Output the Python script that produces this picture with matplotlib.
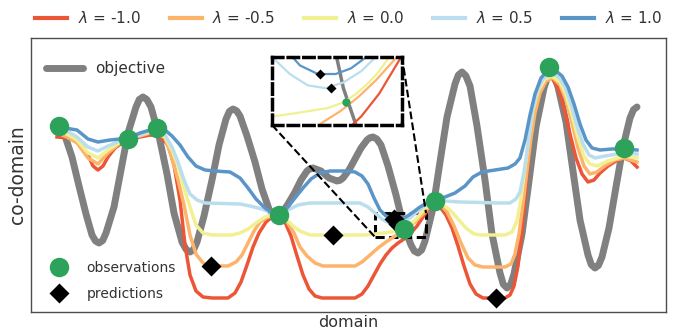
import numpy as np
import matplotlib
matplotlib.use("Agg")
import matplotlib.pyplot as plt
from matplotlib.lines import Line2D
from mpl_toolkits.axes_grid1.inset_locator import mark_inset

# ------------------------------------------------------------------
# data (domain / co-domain in arbitrary units)
# ------------------------------------------------------------------
obj_x = [57, 60.5, 65, 72, 79, 86, 92, 95.5, 99, 102.7, 106, 114, 121, 128, 136, 139.3,
         143, 146.9, 151, 159, 167, 174, 182, 186.1, 190, 193.6, 197, 204, 212, 219,
         226, 229.4, 233, 236.6, 240, 247, 255, 262, 269, 272.4, 276, 279.1, 282, 288,
         295, 301, 307, 309.9, 313, 321, 329, 337, 340, 343, 349, 355, 361, 367, 370,
         373, 376.8, 381, 388, 396, 403, 411, 414.3, 418, 421.7, 425, 433, 440, 447,
         455, 458.3, 462, 465.8, 470, 477, 485, 492, 500, 503.3, 507, 510.7, 514, 522,
         529, 536, 544, 547.3, 551, 554.7, 558, 566, 573, 580, 588, 591.3, 595, 598.5,
         602, 609, 616, 623, 630, 633.5, 637]
obj_y = [192, 190, 184, 163, 134, 106, 85, 79, 77, 79.5, 87, 113, 150, 187, 213, 220.5,
         223, 220.4, 213, 184, 146, 107, 78, 70.6, 68, 70.4, 78, 104, 140, 175,
         201, 208.6, 211, 209.2, 204, 184, 158, 131, 111, 105.8, 104, 104.8, 107, 116,
         128, 140, 149, 151.2, 152, 149, 142, 139, 139.7, 142, 150, 161, 172, 180, 182.3,
         183, 181, 175, 154, 125, 96, 75, 69, 67, 70.1, 79, 112, 158, 203,
         236, 244.9, 248, 244.3, 234, 194, 140, 86, 47, 35.7, 32, 35.6, 46, 86,
         139, 193, 232, 242.4, 246, 242.7, 233, 198, 149, 100, 65, 55.3, 52, 54.7,
         63, 92, 133, 173, 202, 210.3, 213]

lambdas = [-1.0, -0.5, 0.0, 0.5, 1.0]
colors = ['#ec5536', '#fdb46a', '#f1f093', '#badeed', '#5b95c8']

red_x = [57, 70, 80, 88, 93, 98, 103, 108, 115, 122, 128, 140, 150, 157, 162, 168,
         174, 180, 185, 190, 196, 203, 212, 228, 235, 241, 247, 253, 259, 266, 272,
         279, 285, 291, 297, 303, 309, 315, 322, 355, 362, 368, 374, 380, 386, 392,
         398, 404, 410, 417, 425, 430, 435, 440, 446, 452, 458, 464, 470, 476, 483,
         505, 510, 514, 518, 522, 526, 530, 534, 539, 545, 552, 558, 564, 570, 576,
         582, 588, 594, 600, 608, 616, 624, 631, 637]
red_y = [183, 182, 178, 165, 154, 150, 154, 163, 172, 177, 180, 183, 185, 184, 182, 175,
         155, 120, 75, 45, 29, 23, 22, 22, 27, 38, 55, 73, 87, 98, 103,
         104, 98, 84, 64, 45, 31, 24, 22, 22, 26, 34, 45, 56, 65, 72,
         77, 81, 86, 94, 106, 113, 117, 113, 105, 92, 74, 54, 36, 26, 22,
         22, 25, 34, 54, 90, 134, 175, 206, 228, 239, 242, 232, 212, 186, 162,
         146, 138, 140, 147, 154, 159, 162, 159, 153]

orange_x = [57, 67, 77, 88, 98, 108, 120, 128, 140, 150, 157, 165, 172, 178, 184, 190,
            196, 203, 210, 228, 236, 242, 248, 254, 260, 268, 279, 287, 294, 300, 307,
            315, 323, 355, 362, 370, 378, 386, 395, 402, 409, 416, 424, 430, 435, 440,
            447, 454, 461, 468, 475, 483, 505, 511, 515, 519, 523, 527, 531, 535, 540,
            546, 553, 560, 566, 572, 578, 584, 590, 597, 606, 615, 624, 637]
orange_y = [187, 183, 177, 162, 156, 167, 177, 180, 184, 187, 187, 182, 162, 140, 115, 85,
            66, 57, 54, 54, 58, 65, 77, 89, 98, 103, 104, 98, 87, 73, 64,
            57, 54, 54, 58, 65, 72, 78, 84, 88, 93, 99, 107, 114, 117, 116,
            108, 94, 77, 62, 55, 53, 53, 56, 66, 86, 116, 150, 182, 207, 227,
            239, 242, 235, 220, 197, 172, 154, 146, 148, 155, 160, 162, 158]

yellow_x = [57, 67, 77, 88, 98, 108, 120, 128, 140, 150, 157, 165, 172, 178, 184, 190,
            196, 203, 212, 232, 240, 248, 256, 265, 272, 279, 286, 293, 300, 310, 365,
            375, 383, 390, 397, 403, 408, 413, 417, 421, 427, 435, 442, 450, 458, 466,
            474, 482, 505, 512, 517, 521, 525, 529, 533, 538, 545, 552, 560, 566, 572,
            578, 584, 590, 597, 608, 624, 637]
yellow_y = [190, 186, 180, 167, 162, 170, 178, 181, 185, 188, 189, 183, 170, 154, 132, 113,
            95, 87, 85, 85, 87, 91, 97, 103, 105, 105, 101, 94, 89, 85, 85,
            86, 87, 88, 89, 91, 94, 98, 102, 107, 113, 118, 116, 110, 101, 92,
            86, 85, 85, 88, 99, 122, 152, 184, 210, 229, 241, 244, 238, 225, 205,
            182, 164, 156, 154, 159, 164, 162]

lblue_x = [57, 67, 77, 88, 98, 108, 120, 128, 140, 150, 157, 165, 172, 178, 184, 190,
           197, 205, 240, 250, 262, 272, 279, 288, 298, 310, 360, 368, 375, 382, 389,
           396, 403, 410, 418, 426, 435, 445, 460, 500, 510, 516, 520, 524, 528, 532,
           537, 543, 550, 558, 565, 571, 577, 583, 589, 595, 605, 624, 637]
lblue_y = [192, 189, 183, 173, 169, 174, 179, 181, 185, 189, 190, 185, 173, 158, 140, 126,
           120, 117, 116, 114, 111, 107, 105, 110, 115, 117, 117, 113, 107, 101, 97,
           96, 98, 102, 109, 115, 119, 119, 118, 117, 117, 121, 128, 148, 175, 207,
           229, 241, 246, 244, 233, 216, 194, 176, 165, 162, 164, 167, 166]

blue_x = [57, 65, 77, 88, 98, 110, 120, 128, 140, 150, 157, 165, 172, 180, 188, 196,
          205, 215, 230, 240, 248, 256, 265, 272, 279, 287, 295, 303, 311, 320, 330,
          345, 355, 362, 368, 374, 380, 386, 393, 400, 406, 412, 420, 427, 435, 445,
          455, 465, 473, 482, 495, 508, 515, 520, 525, 530, 535, 541, 548, 555, 562,
          568, 574, 580, 586, 592, 600, 612, 624, 637]
blue_y = [193, 192, 190, 181, 178, 180, 181, 182, 187, 190, 193, 190, 184, 175, 163, 154,
          150, 149, 148, 142, 132, 121, 112, 107, 105, 112, 122, 132, 141, 147, 149,
          149, 148, 144, 136, 122, 110, 104, 101, 101, 103, 107, 113, 117, 120, 123,
          127, 134, 143, 148, 150, 152, 156, 162, 180, 205, 226, 242, 250, 250, 244,
          233, 216, 196, 180, 172, 170, 171, 171, 170]

curves_x = [red_x, orange_x, yellow_x, lblue_x, blue_x]
curves_y = [red_y, orange_y, yellow_y, lblue_y, blue_y]

obs_x = [59, 128, 157, 279, 404, 435, 549, 624]
obs_y = [194, 181, 192, 105, 91, 119, 253, 172]

# one prediction per lambda (minimum of each curve)
pred_x = [496, 211, 333, 398, 394]
pred_y = [22, 54, 85, 96, 101]

# zoom window
zoom_xlim = (375, 426)
zoom_ylim = (83, 107)

# ------------------------------------------------------------------
# plot
# ------------------------------------------------------------------
plt.rcParams['font.family'] = 'DejaVu Sans'
plt.rcParams['text.color'] = '#333333'
plt.rcParams['axes.labelcolor'] = '#333333'

fig = plt.figure(figsize=(6.85, 3.31), dpi=100)
ax = fig.add_axes([31 / 685, 19 / 331, 635 / 685, 274 / 331])

obj_line, = ax.plot(obj_x, obj_y, color='#808080', lw=5, solid_capstyle='round',
                    zorder=1, label='objective')
lam_lines = []
for lam, c, cx, cy in zip(lambdas, colors, curves_x, curves_y):
    l, = ax.plot(cx, cy, color=c, lw=2.5, zorder=2,
                 label=r'$\lambda$ = %.1f' % lam)
    lam_lines.append(l)

ax.plot(pred_x, pred_y, 'D', color='k', ms=10, mec='none', zorder=4)
ax.plot(obs_x, obs_y, 'o', color='#2ca25a', ms=14, mec='none', zorder=5)

ax.set_xlim(31, 666)
ax.set_ylim(8, 282)
ax.set_xticks([])
ax.set_yticks([])
for s in ax.spines.values():
    s.set_color('#4d4d4d')
    s.set_linewidth(1.0)
ax.set_xlabel('domain', fontsize=11.5, labelpad=2.5)
ax.set_ylabel('co-domain', fontsize=13.5, labelpad=3)

# legends
leg_top = ax.legend(handles=lam_lines, loc='lower center', bbox_to_anchor=(0.5, 1.01),
                    ncol=5, frameon=False, fontsize=11, handlelength=2.1,
                    columnspacing=1.9, handletextpad=0.7, borderaxespad=0.2)
for h in leg_top.get_lines():
    h.set_linewidth(3)
ax.add_artist(leg_top)

leg_obj = ax.legend(handles=[obj_line], loc='upper left', bbox_to_anchor=(0.0, 0.971),
                    frameon=False, fontsize=11, handlelength=2.4, borderaxespad=0.6)
ax.add_artist(leg_obj)

obs_handle = Line2D([], [], ls='none', marker='o', color='#2ca25a', ms=14, mec='none')
pred_handle = Line2D([], [], ls='none', marker='D', color='k', ms=10, mec='none')
ax.legend([obs_handle, pred_handle], ['observations', 'predictions'], loc='lower left',
          bbox_to_anchor=(0.005, 0.0), frameon=False, fontsize=10, handletextpad=0.95,
          labelspacing=0.85, borderaxespad=0.4)

# zoomed inset
axins = fig.add_axes([272 / 685, (331 - 125) / 331, 130 / 685, 68 / 331])
axins.plot(obj_x, obj_y, color='#808080', lw=2.5, zorder=1)
for c, cx, cy in zip(colors, curves_x, curves_y):
    axins.plot(cx, cy, color=c, lw=1.6, zorder=2)
axins.plot(pred_x, pred_y, 'D', color='k', ms=5, mec='none', zorder=4)
axins.plot(obs_x, obs_y, 'o', color='#2ca25a', ms=6, mec='none', zorder=5)
axins.set_xlim(*zoom_xlim)
axins.set_ylim(*zoom_ylim)
axins.set_xticks([])
axins.set_yticks([])
for s in axins.spines.values():
    s.set_color('k')
    s.set_linewidth(2.5)
    s.set_linestyle((0, (3, 1.5)))

rect, c1, c2 = mark_inset(ax, axins, loc1=1, loc2=3, fc='none', ec='k', lw=1.5, ls='--')
rect.set_linewidth(2.2)
rect.set_linestyle((0, (3, 1.5)))

fig.savefig('out.png', dpi=100)
